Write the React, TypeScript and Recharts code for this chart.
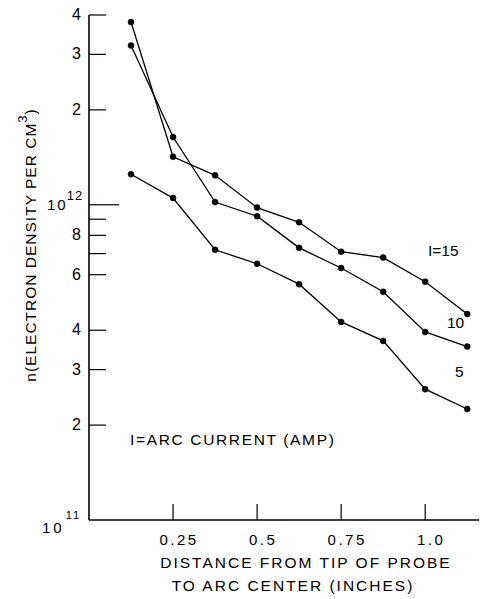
import React from 'react';
import { LineChart, Line, XAxis, YAxis } from 'recharts';

const distances = [0.125, 0.25, 0.375, 0.5, 0.625, 0.75, 0.875, 1.0, 1.125];
const density15 = [3.8e12, 1.42e12, 1.24e12, 9.8e11, 8.8e11, 7.1e11, 6.8e11, 5.7e11, 4.5e11];
const density10 = [3.2e12, 1.64e12, 1.02e12, 9.2e11, 7.3e11, 6.3e11, 5.3e11, 3.95e11, 3.55e11];
const density5 = [1.25e12, 1.05e12, 7.2e11, 6.5e11, 5.6e11, 4.25e11, 3.7e11, 2.6e11, 2.25e11];

const xTicks = [0.25, 0.5, 0.75, 1.0];
const xTickLabels = ['0.25', '0.5', '0.75', '1.0'];
const yTicks = [1e11, 2e11, 3e11, 4e11, 6e11, 7e11, 8e11, 9e11, 1e12, 2e12, 3e12, 4e12];
const yTickLabels = ['', '2', '3', '4', '6', '', '8', '', '', '2', '3', '4'];

const rows = distances.map((d, i) => ({ x: d, i15: density15[i], i10: density10[i], i5: density5[i] }));

const FONT = '"Liberation Sans", Arial, sans-serif';

const YTick = (props: any) => {
  const { x, y, payload } = props;
  const v = payload.value;
  const isDecade12 = Math.abs(v - 1e12) < 1;
  const isDecade11 = Math.abs(v - 1e11) < 1;
  const len = isDecade12 ? 30 : 17;
  return (
    <g>
      {!isDecade11 && <line x1={x} y1={y} x2={x + len} y2={y} stroke="#000" strokeWidth={1.2} />}
      {isDecade12 && (
        <text x={x - 42} y={y + 5} fontSize={15} fontFamily={FONT} fill="#000" letterSpacing={2}>
          10<tspan dy={-10} dx={-1} fontSize={13} letterSpacing={1}>12</tspan>
        </text>
      )}
      {isDecade11 && (
        <text x={x - 47} y={y + 13} fontSize={15} fontFamily={FONT} fill="#000" letterSpacing={3}>
          10<tspan dy={-14} dx={1} fontSize={11} letterSpacing={2}>11</tspan>
        </text>
      )}
      {!isDecade11 && !isDecade12 && (
        <text x={x - 8} y={y + 5} textAnchor="end" fontSize={16} fontFamily={FONT} fill="#000">
          {yTickLabels[yTicks.indexOf(v)] ?? ''}
        </text>
      )}
    </g>
  );
};

const XTick = (props: any) => {
  const { x, y, payload } = props;
  const idx = xTicks.indexOf(payload.value);
  return (
    <g>
      <line x1={x} y1={y} x2={x} y2={y - 16} stroke="#000" strokeWidth={1.2} />
      <text x={x + 6} y={y + 25} textAnchor="middle" fontSize={15} fontFamily={FONT} fill="#000" letterSpacing={2.5}>
        {xTickLabels[idx]}
      </text>
    </g>
  );
};

export default function App() {
  return (
    <div style={{ position: 'absolute', left: 0, top: 0, width: 480, height: 599, background: '#fff' }}>
      <LineChart width={480} height={599} data={rows} margin={{ top: 15, right: 1, bottom: 78, left: 88 }}>
        <XAxis
          dataKey="x"
          type="number"
          domain={[0, 1.16]}
          allowDataOverflow
          ticks={xTicks}
          interval={0}
          height={1}
          tickSize={0}
          tickMargin={0}
          tickLine={false}
          tick={<XTick />}
          axisLine={{ stroke: '#000', strokeWidth: 1.6 }}
        />
        <YAxis
          type="number"
          scale="log"
          domain={[1e11, 4e12]}
          allowDataOverflow
          ticks={yTicks}
          interval={0}
          width={1}
          tickSize={0}
          tickMargin={0}
          tickLine={false}
          tick={<YTick />}
          axisLine={{ stroke: '#000', strokeWidth: 1.6 }}
        />
        <Line dataKey="i15" stroke="#000" strokeWidth={1.3} dot={{ r: 3, fill: '#000', stroke: '#000', strokeWidth: 0.5 }} isAnimationActive={false} />
        <Line dataKey="i10" stroke="#000" strokeWidth={1.3} dot={{ r: 3, fill: '#000', stroke: '#000', strokeWidth: 0.5 }} isAnimationActive={false} />
        <Line dataKey="i5" stroke="#000" strokeWidth={1.3} dot={{ r: 3, fill: '#000', stroke: '#000', strokeWidth: 0.5 }} isAnimationActive={false} />
      </LineChart>
      <svg width={480} height={599} style={{ position: 'absolute', left: 0, top: 0, pointerEvents: 'none' }}>
        <g fontFamily={FONT} fill="#000" fontSize={15.5}>
          <text transform="translate(36,245) rotate(-90)" textAnchor="middle" letterSpacing={1}>
            n(ELECTRON DENSITY PER CM<tspan dy={-9} fontSize={13}>3</tspan><tspan dy={9}>)</tspan>
          </text>
          <text x={306} y={568} textAnchor="middle" letterSpacing={2}>DISTANCE FROM TIP OF PROBE</text>
          <text x={293} y={591} textAnchor="middle" letterSpacing={2}>TO ARC CENTER (INCHES)</text>
          <text x={130} y={445} letterSpacing={1.65}>I=ARC CURRENT (AMP)</text>
          <text x={428} y={256}>I=15</text>
          <text x={447} y={328}>10</text>
          <text x={455} y={377}>5</text>
        </g>
      </svg>
    </div>
  );
}
